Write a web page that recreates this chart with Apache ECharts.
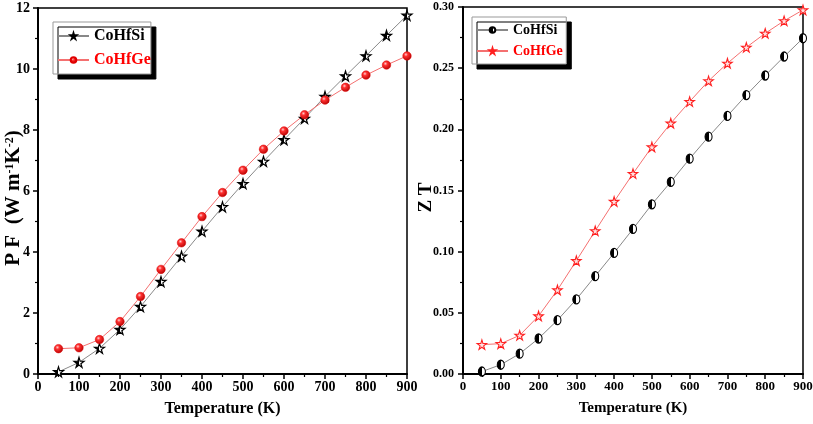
<!DOCTYPE html>
<html><head><meta charset="utf-8">
<script src="https://cdn.jsdelivr.net/npm/echarts@6/dist/echarts.min.js"></script>
<style>html,body{margin:0;padding:0;background:#fff}#c{width:813px;height:424px}</style>
</head><body><div id="c"></div>
<script>
const temps = [50,100,150,200,250,300,350,400,450,500,550,600,650,700,750,800,850,900];
const pfSi = [0.07,0.38,0.84,1.46,2.21,3.03,3.86,4.68,5.48,6.24,6.97,7.68,8.38,9.1,9.77,10.43,11.1,11.76];
const pfGe = [0.83,0.86,1.13,1.72,2.54,3.43,4.3,5.16,5.95,6.68,7.37,7.97,8.5,8.98,9.4,9.8,10.13,10.43];
const ztSi = [0.002,0.0076,0.0166,0.029,0.044,0.061,0.080,0.099,0.1186,0.1387,0.157,0.176,0.194,0.211,0.228,0.244,0.2595,0.2745];
const ztGe = [0.024,0.0248,0.0316,0.0474,0.0687,0.0926,0.117,0.141,0.1638,0.1856,0.205,0.2227,0.2396,0.254,0.267,0.2785,0.2887,0.2976];
const xTicks = [0,100,200,300,400,500,600,700,800,900];
const pfTicks = [0,2,4,6,8,10,12];
const ztTicks = [0,0.05,0.10,0.15,0.20,0.25,0.30];

const FONT = '"Liberation Serif", "Times New Roman", serif';
const STAR = 'path://M50,0 L61,35 L98,35 L68,57 L79,91 L50,70 L21,91 L32,57 L2,35 L39,35 Z';
const halfFill = {type:'linear',x:0,y:0,x2:1,y2:0,colorStops:[{offset:0,color:'#000'},{offset:0.5,color:'#000'},{offset:0.5,color:'#fff'},{offset:1,color:'#fff'}]};
const redBall = {type:'radial',x:0.38,y:0.35,r:0.7,colorStops:[{offset:0,color:'#ffd0d0'},{offset:0.3,color:'#ff3030'},{offset:1,color:'#b00000'}]};

function pairs(xs, ys){ return xs.map((x,i)=>[x,ys[i]]); }

const chart = echarts.init(document.getElementById('c'), null, {renderer:'canvas'});
function axisBase(fs){
  return {
    nameMoveOverlap:false,
    axisLine:{show:true,onZero:false,lineStyle:{color:'#000',width:2}},
    axisTick:{show:true,inside:false,length:5,lineStyle:{color:'#000',width:1.5}},
    minorTick:{show:true,splitNumber:2,length:3,lineStyle:{color:'#000',width:1.2}},
    splitLine:{show:false},
    axisLabel:{fontFamily:FONT,fontWeight:'bold',fontSize:fs,color:'#000',margin:6},
    nameTextStyle:{fontFamily:FONT,fontWeight:'bold',fontSize:16,color:'#000'}
  };
}
function xAxis(gi, fs, nfs){
  const a = axisBase(fs);
  a.nameTextStyle.fontSize = nfs;
  return Object.assign(a, {
    type:'value', gridIndex:gi, min:xTicks[0], max:xTicks[xTicks.length-1], interval:100,
    name:'Temperature (K)', nameLocation:'middle', nameGap:27
  });
}
function legendBase(fs){
  return {
    orient:'vertical', backgroundColor:'#fff', borderColor:'#999', borderWidth:1,
    shadowColor:'#000', shadowBlur:0, shadowOffsetX:5, shadowOffsetY:5,
    itemWidth:31, itemHeight:7, itemGap:8, padding:[6,0,6,4],
    textStyle:{fontFamily:FONT,fontWeight:'bold',fontSize:fs,color:'#000'}
  };
}
const yLeft = axisBase(14);
Object.assign(yLeft, {type:'value',gridIndex:0,min:pfTicks[0],max:pfTicks[pfTicks.length-1],interval:2,
  name:'{a|P F  (W m}{s|-1}{a|K}{s|-2}{a|)}{p|}', nameLocation:'middle', nameGap:14, nameRotate:90,
  nameTextStyle:{rich:{a:{fontFamily:FONT,fontWeight:'bold',fontSize:21,color:'#000',lineHeight:20,verticalAlign:'bottom'},
                       s:{fontFamily:FONT,fontWeight:'bold',fontSize:12,color:'#000',lineHeight:20,verticalAlign:'top'},
                       p:{width:14,lineHeight:20}}}});
yLeft.axisLabel.margin = 8;
const yRight = axisBase(12);
Object.assign(yRight, {type:'value',gridIndex:1,min:ztTicks[0],max:ztTicks[ztTicks.length-1],interval:0.05,
  name:'{a|Z T}{p|}', nameLocation:'middle', nameGap:27, nameRotate:90,
  nameTextStyle:{rich:{a:{fontFamily:FONT,fontWeight:'bold',fontSize:19,color:'#000',lineHeight:19},
                       p:{width:14,lineHeight:19}}}});
yRight.axisLabel.formatter = v=>v.toFixed(2);
yRight.axisLabel.margin = 9;

chart.setOption({
  animation:false,
  grid:[
    {left:38,right:406,top:8,bottom:50,show:true,borderColor:'#000',borderWidth:1.5,backgroundColor:'transparent',outerBoundsMode:'none',containLabel:false},
    {left:463,right:10,top:7,bottom:50,show:true,borderColor:'#000',borderWidth:1.5,backgroundColor:'transparent',outerBoundsMode:'none',containLabel:false}
  ],
  xAxis:[xAxis(0,14,16), xAxis(1,13,15)],
  yAxis:[yLeft, yRight],
  legend:[
    Object.assign(legendBase(16), {left:53,top:22,data:[{name:'CoHfSi'},{name:'CoHfGe',textStyle:{color:'#ff0000'}}]}),
    Object.assign(legendBase(14), {left:472,top:17,itemGap:7,data:[{name:'CoHfSi '},{name:'CoHfGe ',textStyle:{color:'#ff0000'}}]})
  ],
  series:[
    {name:'CoHfSi',type:'line',xAxisIndex:0,yAxisIndex:0,data:pairs(temps,pfSi),
     symbol:STAR,symbolSize:10,lineStyle:{color:'#888',width:1},
     itemStyle:{color:halfFill,borderColor:'#000',borderWidth:1.2},clip:true},
    {name:'CoHfGe',type:'line',xAxisIndex:0,yAxisIndex:0,data:pairs(temps,pfGe),
     symbol:'circle',symbolSize:8.5,lineStyle:{color:'#f47070',width:1},
     itemStyle:{color:redBall,borderColor:'#e00000',borderWidth:0.5},clip:true},
    {name:'CoHfSi ',type:'line',xAxisIndex:1,yAxisIndex:1,data:pairs(temps,ztSi),
     symbol:'circle',symbolSize:[7,9],lineStyle:{color:'#888',width:1},
     itemStyle:{color:halfFill,borderColor:'#000',borderWidth:1.2},clip:true},
    {name:'CoHfGe ',type:'line',xAxisIndex:1,yAxisIndex:1,data:pairs(temps,ztGe),
     symbol:STAR,symbolSize:9.5,lineStyle:{color:'#f47070',width:1},
     itemStyle:{color:'#ffe0e0',borderColor:'#ff2020',borderWidth:1.1},clip:true}
  ]
});
</script></body></html>
